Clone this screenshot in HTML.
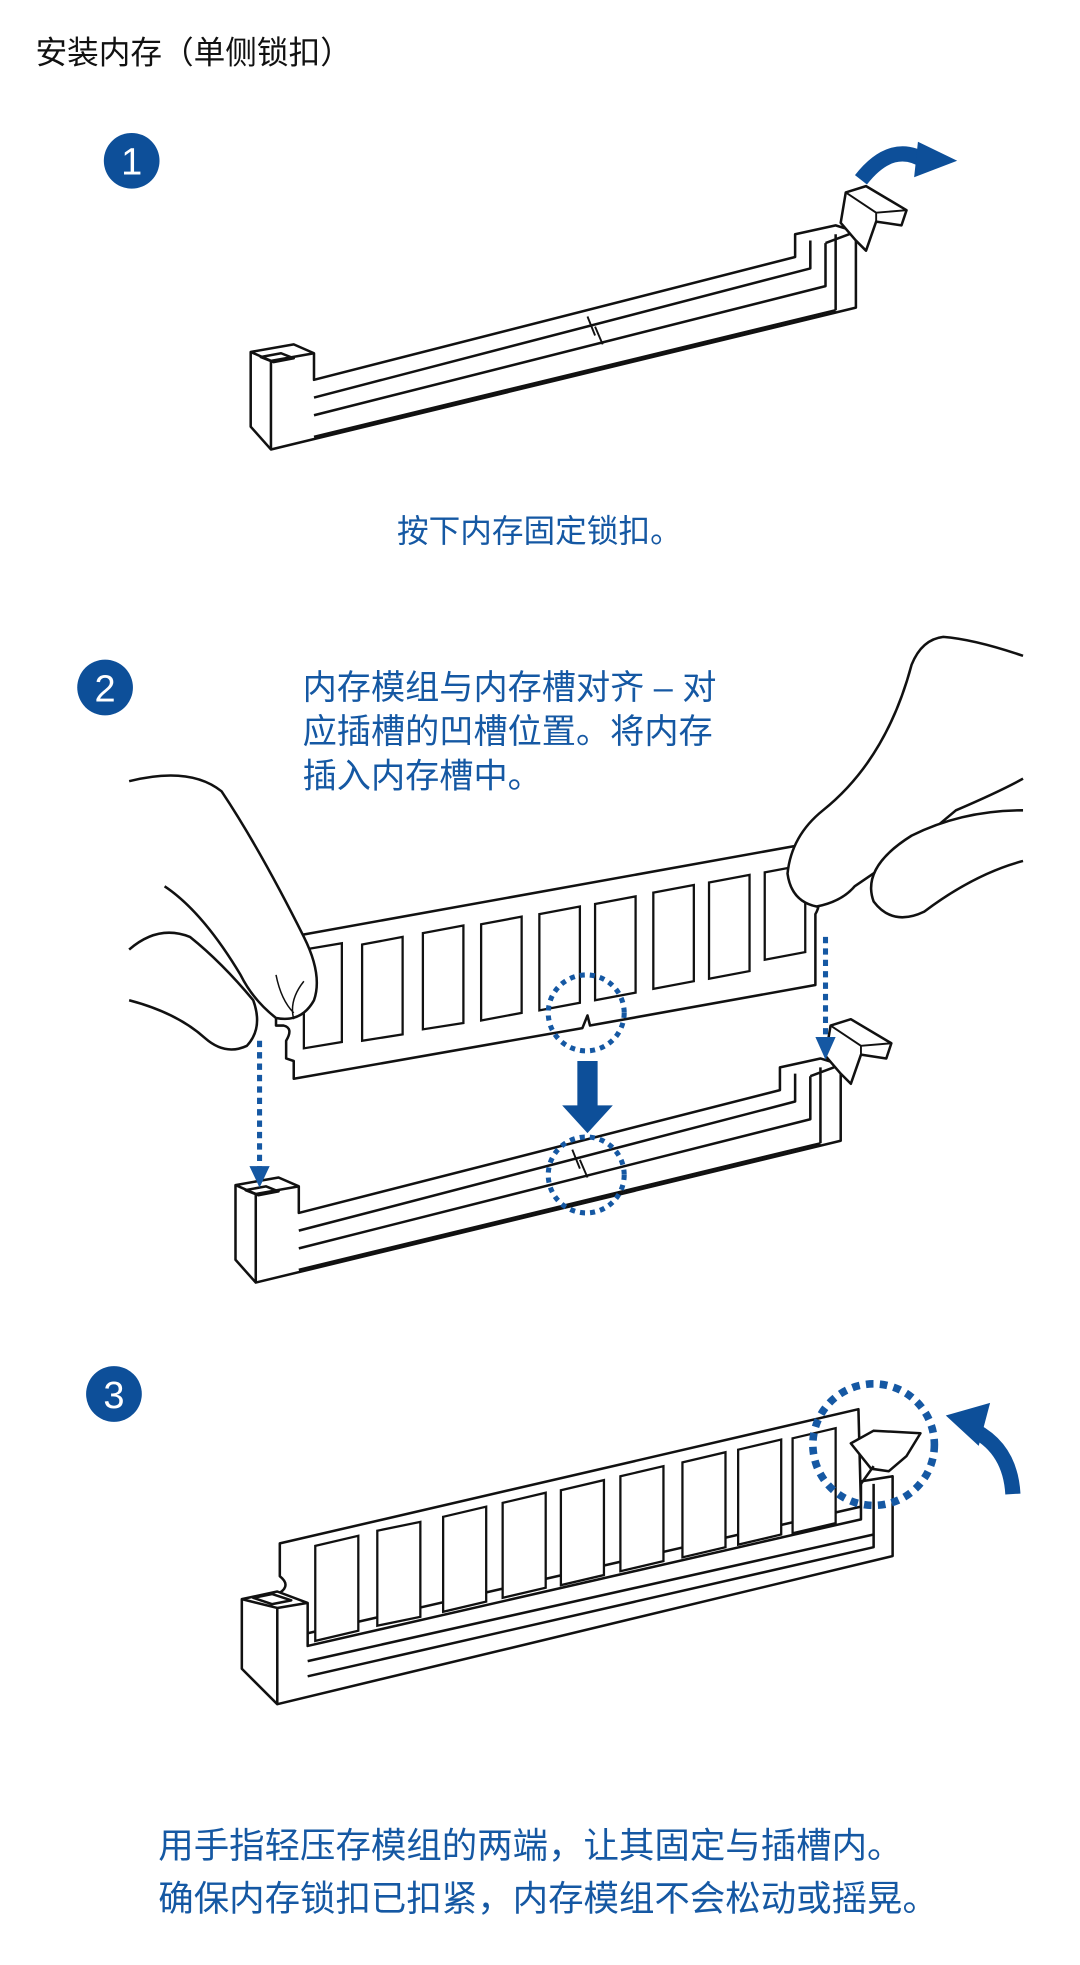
<!DOCTYPE html>
<html><head><meta charset="utf-8"><style>
html,body{margin:0;padding:0;background:#fff;}
svg{display:block}
text{font-family:"Liberation Sans","Noto Sans CJK SC",sans-serif;}
</style></head><body>
<svg width="1080" height="1965" viewBox="0 0 853 1552" preserveAspectRatio="none" xmlns="http://www.w3.org/2000/svg">
<defs>
<g id="slot" fill="#fff" stroke="#111" stroke-width="2" stroke-linejoin="round">
  <path d="M198,278 L232,272 L248,279 L248,300 L628,203 L628,185 L660,178 L676,183 L676,243 L214,355 L198,337 Z"/>
  <path d="M214,285 L214,355 M198,278 L214,285 L248,279" fill="none"/>
  <path d="M206,282 L222,279 L232,283 L216,286 Z" fill="none"/>
  <path d="M248,314 L640,212 L640,190 M248,328 L652,226 L652,192 M248,345 L660,245 M660,245 L660,185 M652,192 L676,183" fill="none"/>
  <path d="M464,250 L470,265 M470,258 L476,272" fill="none" stroke-width="1.5"/>
  <path d="M664,176 L668,152 L684,147 L716,166 L712,178 L692,175 L684,198 L676,190 Z" fill="#fff"/>
  <path d="M668,152 L692,168 L716,166 M692,168 L692,175" fill="none" stroke-width="1.5"/>
</g>
</defs>

<text x="28" y="50" font-size="25" fill="#111">安装内存（单侧锁扣）</text>

<!-- step 1 -->
<circle cx="104" cy="127" r="22" fill="#0d4f99"/>
<text x="104" y="138" font-size="30" fill="#fff" text-anchor="middle">1</text>
<use href="#slot"/>
<path d="M680,142 Q705,110 732,128" fill="none" stroke="#0d4f99" stroke-width="12"/>
<path d="M725,112 L756,127 L722,140 Z" fill="#0d4f99"/>
<text x="426" y="428" font-size="25" fill="#1558a3" text-anchor="middle">按下内存固定锁扣。</text>

<!-- step 2 -->
<circle cx="83" cy="543" r="22" fill="#0d4f99"/>
<text x="83" y="554" font-size="30" fill="#fff" text-anchor="middle">2</text>
<text font-size="27" fill="#1558a3"><tspan x="239" y="552">内存模组与内存槽对齐 – 对</tspan><tspan x="239" y="587">应插槽的凹槽位置。将内存</tspan><tspan x="239" y="622">插入内存槽中。</tspan></text>

<use href="#slot" transform="translate(-12,658)"/>

<g fill="#fff" stroke="#111" stroke-width="2" stroke-linejoin="round">
<path d="M218,742 L640,666 L642,705 Q650,712 644,722 L644,778 L466,810 L464,802 L460,812 L232,852 L232,838 L226,836 L226,822 Q232,812 224,810 L218,810 Z"/>
</g>
<g fill="#fff" stroke="#111" stroke-width="1.8">
<path d="M240,750 L270,745 L270,823 L240,828 Z"/><path d="M286,746 L318,740 L318,817 L286,822 Z"/>
<path d="M334,737 L366,731 L366,808 L334,813 Z"/><path d="M380,730 L412,724 L412,800 L380,806 Z"/>
<path d="M426,722 L458,716 L458,792 L426,798 Z"/><path d="M470,714 L502,708 L502,784 L470,790 Z"/>
<path d="M516,705 L548,699 L548,775 L516,781 Z"/><path d="M560,697 L592,691 L592,767 L560,773 Z"/>
<path d="M604,689 L636,683 L636,752 L604,758 Z"/>
</g>
<g fill="#fff" stroke="#111" stroke-width="2" stroke-linejoin="round">
<path d="M102,617 Q150,605 175,625 Q205,670 240,740 Q255,770 248,790 Q238,808 218,804 Q200,790 190,770 Q160,720 130,700"/>
<path d="M102,750 Q125,730 150,740 Q175,760 200,790 Q208,812 195,826 Q178,834 162,820 Q140,800 102,790"/>
<path d="M218,770 Q222,790 232,800 M240,775 Q228,790 232,805" fill="none" stroke-width="1.2"/>
<path d="M808,518 Q770,505 745,503 Q728,505 720,525 Q700,600 650,640 Q625,660 622,690 Q625,712 645,716 Q665,712 675,700 Q720,670 755,640 Q790,625 808,615"/>
<path d="M808,640 Q760,640 720,660 Q680,685 690,712 Q705,732 730,720 Q770,690 808,680"/>
</g>
<g stroke="#1558a3" stroke-width="4" stroke-dasharray="5,4" fill="none">
<line x1="205" y1="822" x2="205" y2="924"/>
<line x1="652" y1="740" x2="652" y2="822"/>
<circle cx="463" cy="800" r="30" stroke-dasharray="4,4"/>
<circle cx="463" cy="928" r="30" stroke-dasharray="4,4"/>
</g>
<path d="M197,921 L213,921 L205,938 Z M644,819 L660,819 L652,837 Z" fill="#1558a3"/>
<path d="M456,838 L472,838 L472,873 L484,873 L464,895 L444,873 L456,873 Z" fill="#0d4f99"/>

<!-- step 3 -->
<circle cx="90" cy="1101" r="22" fill="#0d4f99"/>
<text x="90" y="1112" font-size="30" fill="#fff" text-anchor="middle">3</text>
<g fill="#fff" stroke="#111" stroke-width="2" stroke-linejoin="round">
<path d="M221,1219 L678,1113 L680,1190 L243,1290 L235,1268 L221,1268 L221,1258 Q230,1252 221,1245 Z"/>
</g>
<g fill="#fff" stroke="#111" stroke-width="1.8">
<path d="M249,1221 L283,1213 L283,1288 L249,1296 Z"/>
<path d="M298,1209 L332,1202 L332,1277 L298,1284 Z"/>
<path d="M350,1198 L384,1190 L384,1265 L350,1273 Z"/>
<path d="M397,1187 L431,1179 L431,1254 L397,1262 Z"/>
<path d="M443,1177 L477,1169 L477,1244 L443,1252 Z"/>
<path d="M490,1166 L524,1158 L524,1233 L490,1241 Z"/>
<path d="M539,1155 L573,1147 L573,1222 L539,1230 Z"/>
<path d="M583,1145 L617,1137 L617,1212 L583,1220 Z"/>
<path d="M626,1136 L660,1128 L660,1203 L626,1211 Z"/>
</g>
<g fill="#fff" stroke="#111" stroke-width="2" stroke-linejoin="round">
<path d="M191,1263 L219,1257 L243,1266 L243,1300 L680,1200 L680,1170 L705,1166 L705,1229 L219,1346 L191,1318 Z"/>
<path d="M219,1270 L219,1346 M191,1263 L219,1270 L243,1266 M200,1262 L215,1259 L230,1264 L215,1267 Z M243,1312 L690,1212 M243,1324 L690,1222 L690,1172" fill="none"/>
<path d="M672,1140 L690,1130 L727,1132 L716,1150 L702,1162 L688,1160 Z"/>
<path d="M680,1172 L690,1158" fill="none"/>
</g>
<circle cx="690" cy="1141" r="48" fill="none" stroke="#1558a3" stroke-width="6" stroke-dasharray="6,5"/>
<path d="M800,1180 Q798,1145 770,1130" fill="none" stroke="#0d4f99" stroke-width="12"/>
<path d="M747,1118 L782,1108 L773,1142 Z" fill="#0d4f99"/>

<text font-size="28" fill="#1558a3"><tspan x="125" y="1467">用手指轻压存模组的两端，让其固定与插槽内。</tspan><tspan x="125" y="1509">确保内存锁扣已扣紧，内存模组不会松动或摇晃。</tspan></text>
</svg>
</body></html>
